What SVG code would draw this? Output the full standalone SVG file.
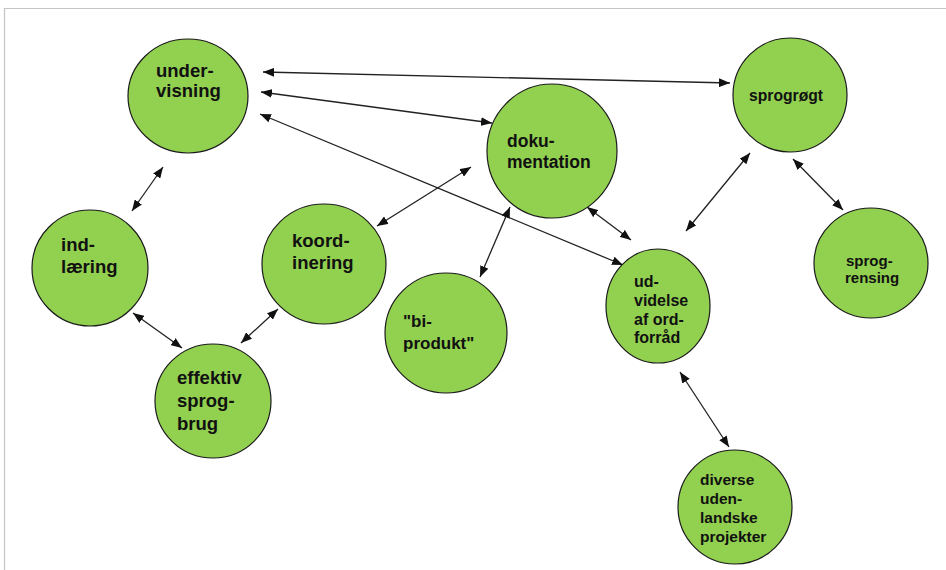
<svg xmlns="http://www.w3.org/2000/svg" width="946" height="570" viewBox="0 0 946 570">
<defs>
<style>
.n{fill:#92D050;stroke:#1a1a1a;stroke-width:1.2}
.t{font-family:"Liberation Sans",Arial,sans-serif;font-weight:bold;fill:#111}
.c line{stroke:#222;stroke-width:1.3;marker-start:url(#ah);marker-end:url(#ah)}
</style>
<marker id="ah" viewBox="0 0 10 8" refX="10" refY="4" markerWidth="11" markerHeight="9" markerUnits="userSpaceOnUse" orient="auto-start-reverse">
<path d="M0,0 L10,4 L0,8 z" fill="#111"/>
</marker>
</defs>
<rect width="946" height="570" fill="#fff"/>
<path d="M4.5,570 V8.5 H946" fill="none" stroke="#c4c4c4" stroke-width="1.2"/>
<g id="connectors" class="c">
<line x1="263" y1="72" x2="730" y2="83"/>
<line x1="261" y1="92" x2="492" y2="123"/>
<line x1="260" y1="114" x2="623" y2="265"/>
<line x1="377" y1="226" x2="471" y2="167"/>
<line x1="510" y1="207" x2="480" y2="277"/>
<line x1="587" y1="207" x2="631" y2="240"/>
<line x1="686" y1="231" x2="750" y2="153"/>
<line x1="793" y1="159" x2="843" y2="210"/>
<line x1="680" y1="372" x2="729" y2="447"/>
<line x1="163" y1="167" x2="132" y2="211"/>
<line x1="133" y1="313" x2="182" y2="348"/>
<line x1="278" y1="309" x2="241" y2="343"/>
</g>
<g id="undervisning">
<ellipse class="n" cx="188" cy="96" rx="60" ry="57"/>
<text class="t" font-size="18.5"><tspan x="156" y="77">under-</tspan><tspan x="156" y="97">visning</tspan></text>
</g>
<g id="sprogroegt">
<ellipse class="n" cx="790" cy="95" rx="57" ry="57"/>
<text class="t" font-size="15.7" x="749" y="101">sprogrøgt</text>
</g>
<g id="dokumentation">
<ellipse class="n" cx="552" cy="151" rx="65" ry="67"/>
<text class="t" font-size="17.5"><tspan x="507" y="147">doku-</tspan><tspan x="507" y="168">mentation</tspan></text>
</g>
<g id="indlaering">
<ellipse class="n" cx="90" cy="268" rx="58" ry="58"/>
<text class="t" font-size="18.5"><tspan x="61" y="251">ind-</tspan><tspan x="61" y="273">læring</tspan></text>
</g>
<g id="koordinering">
<ellipse class="n" cx="324" cy="264" rx="62" ry="60"/>
<text class="t" font-size="18.5"><tspan x="292" y="247">koord-</tspan><tspan x="292" y="269">inering</tspan></text>
</g>
<g id="effektiv">
<ellipse class="n" cx="213" cy="401" rx="58" ry="57"/>
<text class="t" font-size="18.5"><tspan x="177" y="384">effektiv</tspan><tspan x="177" y="407">sprog-</tspan><tspan x="177" y="430">brug</tspan></text>
</g>
<g id="biprodukt">
<ellipse class="n" cx="446" cy="333" rx="61" ry="60"/>
<text class="t" font-size="17"><tspan x="403" y="327">"bi-</tspan><tspan x="403" y="349">produkt"</tspan></text>
</g>
<g id="udvidelse">
<ellipse class="n" cx="658" cy="306" rx="52" ry="57"/>
<text class="t" font-size="16"><tspan x="634" y="287">ud-</tspan><tspan x="634" y="306">videlse</tspan><tspan x="634" y="325">af ord-</tspan><tspan x="634" y="343">forråd</tspan></text>
</g>
<g id="sprogrensing">
<ellipse class="n" cx="871" cy="263" rx="57" ry="55"/>
<text class="t" font-size="15"><tspan x="846" y="266">sprog-</tspan><tspan x="845" y="283">rensing</tspan></text>
</g>
<g id="diverse">
<ellipse class="n" cx="735" cy="507" rx="57" ry="57"/>
<text class="t" font-size="15.5"><tspan x="700" y="485">diverse</tspan><tspan x="700" y="504">uden-</tspan><tspan x="700" y="523">landske</tspan><tspan x="700" y="542">projekter</tspan></text>
</g>
</svg>
